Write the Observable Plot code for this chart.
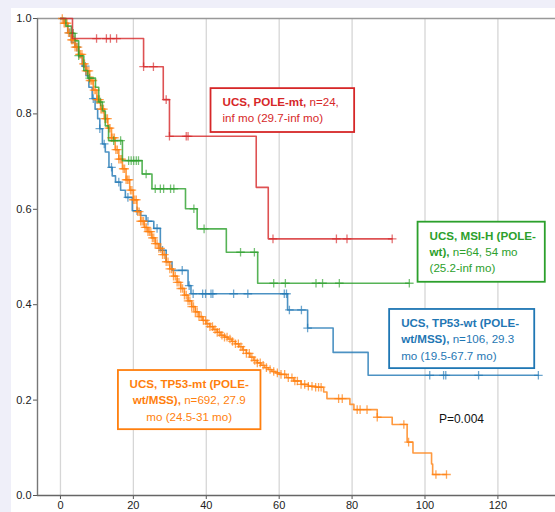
<!DOCTYPE html>
<html><head><meta charset="utf-8">
<script src="https://cdn.jsdelivr.net/npm/d3@7"></script>
<script src="https://cdn.jsdelivr.net/npm/@observablehq/plot@0.6"></script>
<style>
body{margin:0;background:#efeff9;}
#wrap{position:absolute;left:11px;top:8px;width:544px;height:504px;background:#fff;overflow:hidden}
</style></head><body><div id="wrap"></div>
<script>
// ---- tick labels ----
const xTicks = [0, 20, 40, 60, 80, 100, 120];
const yTicks = [0, 0.2, 0.4, 0.6, 0.8, 1.0];
const pText = "P=0.004";

// ---- UCS, POLE-mt (red) ----
const poleT = [0, 3.3, 22.8, 28.2, 29.9, 53.7, 57];
const poleS = [1, 0.958, 0.899, 0.830, 0.753, 0.646, 0.538];
const poleEnd = 91;
const poleCens = [9.9, 12.6, 13.7, 15.4, 22.8, 25.5, 29, 29.9, 34.5, 35, 58.3, 75.7, 78.6, 91];

// ---- UCS, MSI-H (green) ----
const msiT = [0, 1.5, 3, 4, 5, 6.4, 7.5, 9.6, 10.5, 11.5, 12.3, 13.2, 17, 22.4, 25.1, 34.3, 37.5, 45.5, 54.1];
const msiS = [1, 0.984, 0.969, 0.953, 0.922, 0.891, 0.875, 0.856, 0.825, 0.806, 0.775, 0.744, 0.702, 0.674, 0.643, 0.601, 0.559, 0.510, 0.445];
const msiEnd = 95.7;
const msiCens = [3.5, 5, 8, 11, 14.6, 16.5, 18.7, 19.4, 20.1, 20.8, 21.4, 23.5, 26, 27.4, 28.3, 30.2, 31.1, 36.6, 39.4, 49.4, 53.2, 58.5, 61.7, 70.1, 71.9, 76.5, 95.7];

// ---- UCS, TP53-wt (blue) ----
const wtT = [0, 1, 2, 3, 4, 5, 6, 7, 7.8, 8.7, 9.5, 10.2, 10.8, 11.5, 12.3, 13.3, 14.2, 15.1, 16.5, 17.8, 19.7, 22, 23.5, 25.6, 27.4, 29, 30.6, 35, 35.8, 62.3, 67.8, 74.8, 84.4];
const wtS = [1, 0.99, 0.97, 0.95, 0.94, 0.92, 0.90, 0.88, 0.856, 0.832, 0.81, 0.79, 0.769, 0.737, 0.72, 0.688, 0.67, 0.657, 0.64, 0.625, 0.597, 0.587, 0.575, 0.56, 0.514, 0.49, 0.472, 0.44, 0.423, 0.389, 0.351, 0.300, 0.252];
const wtEnd = 131.1;
const wtCens = [2.5, 4.5, 6.8, 9, 10.8, 12, 14, 16, 18.5, 21, 24, 26.5, 28, 33.4, 35.3, 36.4, 39.0, 39.8, 41.3, 41.8, 47.5, 51.4, 61.4, 62.0, 62.8, 66.1, 67.8, 101.3, 105.1, 105.7, 114.7, 131.1];

// ---- UCS, TP53-mt (orange) ----
const mtT = [0,1,2,3,4,5,6,7,8,9,10,11,12,13,14,15,16,17,18,19,20,21,22,23,24,25,26,27,28,29,30,31,32,33,34,35,36,37,38,39,40,41,42,43,44,45,46,47,48,49,50,51,52,53,54,55,56,57,58,59,60,62,64,66,68,70,72.2,73.1,79.4,80.5,86.9,91,95.1,96.7,101.8,102.1];
const mtS = [1,0.99,0.97,0.955,0.94,0.925,0.905,0.89,0.87,0.85,0.83,0.81,0.79,0.77,0.75,0.725,0.705,0.685,0.662,0.64,0.62,0.595,0.575,0.562,0.553,0.54,0.528,0.518,0.505,0.49,0.475,0.46,0.447,0.434,0.42,0.408,0.396,0.385,0.375,0.367,0.36,0.354,0.348,0.342,0.336,0.332,0.328,0.323,0.318,0.312,0.305,0.298,0.29,0.283,0.278,0.273,0.268,0.264,0.26,0.257,0.254,0.247,0.24,0.233,0.229,0.227,0.217,0.203,0.191,0.180,0.164,0.149,0.112,0.089,0.066,0.044];
const mtEnd = 105.9;
const mtCens = [0.5,1,1.3,1.8,2.2,2.6,3,3.3,3.7,4,4.4,4.8,5.2,5.5,5.9,6.3,6.6,7,7.4,7.8,8.1,8.5,8.9,9.2,9.6,10,10.3,10.7,11.1,11.4,11.8,12.2,12.5,12.9,13.3,13.6,14,14.4,14.8,15.2,15.6,16,16.4,16.8,17.2,17.6,18,18.4,18.8,19.2,19.6,20,20.4,20.8,21.2,21.6,22,22.4,22.8,23.2,23.6,24,24.4,24.8,25.2,25.6,26,26.5,27,27.5,28,28.5,29,29.5,30,30.5,31,31.5,32,32.5,33,33.5,34,34.5,35,35.5,36,36.5,37,37.5,38,38.6,39.2,39.8,40.4,41,41.7,42.4,43,43.6,44.3,45,45.7,46.5,47.2,48,48.8,49.5,50.2,51,51.8,52.5,53.3,54,54.8,55.6,56.5,57.5,58.5,59.5,60.5,61.5,62.5,63.5,64.3,65,66,67,68,69,70,70.8,71.5,76.3,77.3,81.4,82.2,84.1,86.9,94.2,95.5,103,105.9];

// ---- annotation texts ----
const poleLabel = [[["UCS, POLE-mt,", true], [" n=24,", false]], [["inf mo (29.7-inf mo)", false]]];
const msiLabel = [[["UCS, MSI-H (POLE-", true]], [["wt),", true], [" n=64, 54 mo", false]], [["(25.2-inf mo)", false]]];
const wtLabel = [[["UCS, TP53-wt (POLE-", true]], [["wt/MSS),", true], [" n=106, 29.3", false]], [["mo (19.5-67.7 mo)", false]]];
const mtLabel = [[["UCS, TP53-mt (POLE-", true]], [["wt/MSS),", true], [" n=692, 27.9", false]], [["mo (24.5-31 mo)", false]]];

// ---- build ----
function steps(t, s, end) {
  const pts = t.map((v, i) => ({t: v, s: s[i]}));
  pts.push({t: end, s: s[s.length - 1]});
  return pts;
}
function level(t, s, c) {
  let v = s[0];
  for (let i = 0; i < t.length; i++) if (t[i] <= c) v = s[i];
  return v;
}
function cens(t, s, cs) { return cs.map(c => ({t: c, s: level(t, s, c)})); }

const plus = {draw(ctx, size) {
  const r = Math.sqrt(size / Math.PI);
  ctx.moveTo(-r, 0); ctx.lineTo(r, 0); ctx.moveTo(0, -r); ctx.lineTo(0, r);
}};

const series = [
  {t: wtT, s: wtS, end: wtEnd, c: wtCens, color: "#1f77b4", op: 0.65},
  {t: mtT, s: mtS, end: mtEnd, c: mtCens, color: "#ff7f0e", op: 0.7},
  {t: msiT, s: msiS, end: msiEnd, c: msiCens, color: "#2ca02c", op: 0.65},
  {t: poleT, s: poleS, end: poleEnd, c: poleCens, color: "#d62728", op: 0.65}
];

const curveMarks = [];
for (const sr of series) {
  curveMarks.push(Plot.line(steps(sr.t, sr.s, sr.end), {x: "t", y: "s", curve: "step-after", stroke: sr.color, strokeWidth: 1.6, strokeOpacity: 0.8}));
  curveMarks.push(Plot.dot(cens(sr.t, sr.s, sr.c), {x: "t", y: "s", symbol: plus, r: 4.3, stroke: sr.color, fill: "none", strokeWidth: 1.3, strokeOpacity: sr.op}));
}

const xMin = -6.3;
const plot = Plot.plot({
  width: 544, height: 504,
  marginLeft: 26, marginRight: 0, marginTop: 10, marginBottom: 17,
  style: {fontFamily: "'Liberation Sans', Arial, sans-serif", fontSize: "11px", color: "#222", background: "white"},
  x: {domain: [xMin, 135.8]},
  y: {domain: [0, 1]},
  marks: [
    Plot.ruleX(xTicks, {stroke: "#d6d6d6", strokeWidth: 1.3}),
    Plot.axisX({ticks: xTicks, tickSize: 4, tickPadding: 2, label: null, stroke: "#555"}),
    Plot.axisY({ticks: yTicks, tickFormat: d => d.toFixed(1), tickSize: 4, tickPadding: 2, label: null, stroke: "#555"}),
    Plot.ruleY([1], {stroke: "#999", strokeWidth: 1.4}),
    ...curveMarks,
    Plot.text([pText], {x: 110, y: 0.161, text: d => d, fontSize: 12, fill: "#111"}),
    Plot.ruleY([0], {stroke: "#666", strokeWidth: 1.4}),
    Plot.ruleX([xMin], {stroke: "#777", strokeWidth: 1.4})
  ]
});
document.getElementById("wrap").appendChild(plot);

// ---- annotation boxes (placed through the plot's scales) ----
const sx = plot.scale("x"), sy = plot.scale("y");
const notes = [
  {x1: 41.3, x2: 80.7, y1: 0.853, y2: 0.761, color: "#d62728", align: "start", lines: poleLabel},
  {x1: 98.1, x2: 133.0, y1: 0.573, y2: 0.447, color: "#2ca02c", align: "start", lines: msiLabel},
  {x1: 90.3, x2: 130.1, y1: 0.390, y2: 0.266, color: "#1f77b4", align: "start", lines: wtLabel},
  {x1: 15.9, x2: 55.0, y1: 0.262, y2: 0.138, color: "#ff7f0e", align: "middle", lines: mtLabel}
];
const svg = d3.select(plot);
const g = svg.append("g").attr("font-family", "'Liberation Sans', Arial, sans-serif").attr("font-size", 11.6);
for (const n of notes) {
  const L = sx.apply(n.x1), R = sx.apply(n.x2), T = sy.apply(n.y1), B = sy.apply(n.y2);
  g.append("rect").attr("x", L).attr("y", T).attr("width", R - L).attr("height", B - T)
    .attr("fill", "white").attr("stroke", n.color).attr("stroke-width", 1.8);
  n.lines.forEach((line, i) => {
    const tx = n.align === "start" ? L + 12 : (L + R) / 2;
    const text = g.append("text").attr("x", tx).attr("y", T + 14 + i * 16.3)
      .attr("dy", "0.35em").attr("text-anchor", n.align).attr("fill", n.color);
    for (const [s, b] of line) text.append("tspan").attr("font-weight", b ? "bold" : "normal").text(s);
  });
}
</script></body></html>
